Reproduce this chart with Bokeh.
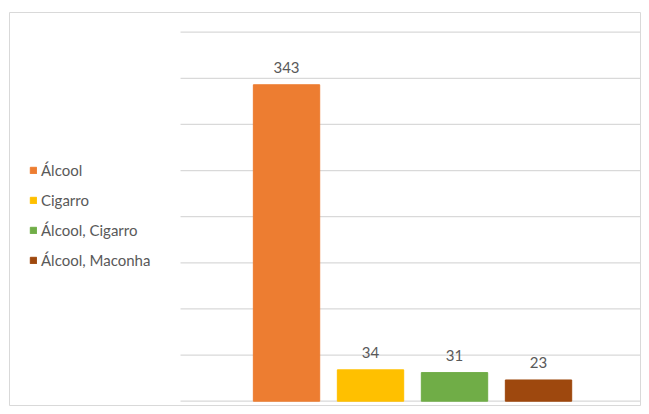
from bokeh.plotting import figure
from bokeh.models import ColumnDataSource, Range1d, Legend, LegendItem, LabelSet
from bokeh.core.properties import field, value
from bokeh.embed import file_html
from bokeh.resources import INLINE

categories = ["Álcool", "Cigarro", "Álcool, Cigarro", "Álcool, Maconha"]
values = [343, 34, 31, 23]
colors = ["#ED7D31", "#FFC000", "#70AD47", "#9E480E"]
grid_ticks = [0, 50, 100, 150, 200, 250, 300, 350, 400]

# plot-area extent (in x data units) covered by the horizontal gridlines
plot_x0, plot_x1 = -1.262, 4.25

src = ColumnDataSource(dict(
    x=list(range(len(categories))),
    value=values,
    cat=categories,
    color=colors,
    label=[str(v) for v in values],
))
grid_src = ColumnDataSource(dict(
    y=grid_ticks,
    x0=[plot_x0] * len(grid_ticks),
    x1=[plot_x1] * len(grid_ticks),
))

p = figure(width=641, height=406, output_backend="svg", toolbar_location=None,
           x_range=Range1d(-3.298, 4.226), y_range=Range1d(-5.75, 421.35),
           min_border_left=9, min_border_right=0, min_border_top=12, min_border_bottom=0)

p.segment(x0="x0", y0="y", x1="x1", y1="y", source=grid_src,
          line_color="#D9D9D9", line_width=1.2)

r = p.vbar(x="x", top="value", bottom=0, width=0.79, color="color", source=src)

p.xaxis.visible = False
p.yaxis.visible = False
p.grid.visible = False
p.outline_line_color = "#D9D9D9"
p.background_fill_color = "white"
p.border_fill_color = "white"

labels = LabelSet(x="x", y="value", text="label", source=src, text_align="center",
                  text_baseline="alphabetic", y_offset=12, text_font_size="15px",
                  text_color="#595959", text_font=value("Lato"))
p.add_layout(labels)

legend = Legend(items=[LegendItem(label=field("cat"), renderers=[r])],
                location=(20, 137), glyph_width=8, glyph_height=8, label_standoff=4,
                spacing=12, label_text_font_size="15px", label_text_color="#595959",
                label_text_font="Lato", border_line_color=None, background_fill_alpha=0,
                padding=0, margin=0)
p.add_layout(legend)

open("out.html", "w").write(file_html(p, INLINE))
